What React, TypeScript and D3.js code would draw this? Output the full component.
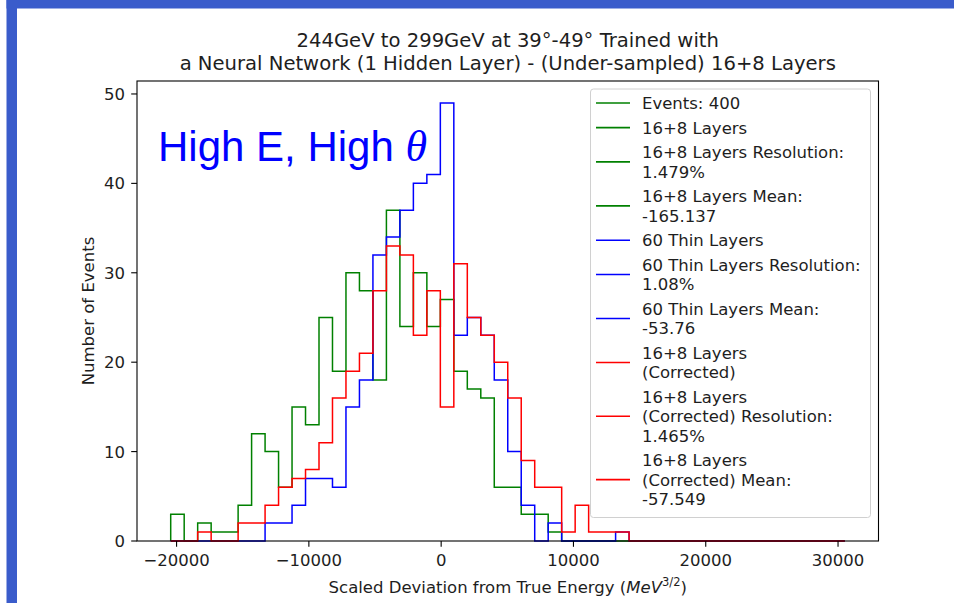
import React from "react";
import * as d3 from "d3";

// Histogram binning shared by all three series
const BIN_LO = -20444;
const BIN_HI = 30511;
const N_BINS = 50;

// Counts per bin (400 events each)
const layers16p8 = [
  3, 0, 2, 1, 1, 4, 12, 10, 6, 15, 13, 25, 19, 30, 28, 18, 37, 24, 30, 24,
  27, 19, 17, 16, 6, 6, 3, 3, 1, 0, 0, 0, 0, 0, 0, 0, 0, 0, 0, 0,
  0, 0, 0, 0, 0, 0, 0, 0, 0, 0,
];
const thinLayers60 = [
  0, 0, 0, 0, 0, 0, 0, 2, 2, 4, 7, 7, 6, 15, 18, 32, 34, 37, 40, 41,
  49, 23, 25, 23, 18, 10, 4, 0, 2, 0, 0, 0, 0, 1, 0, 0, 0, 0, 0, 0,
  0, 0, 0, 0, 0, 0, 0, 0, 0, 0,
];
const layers16p8Corrected = [
  0, 0, 1, 0, 0, 2, 2, 4, 6, 7, 8, 11, 16, 19, 21, 28, 33, 32, 23, 28,
  15, 31, 25, 23, 20, 16, 9, 6, 6, 1, 4, 1, 1, 1, 0, 0, 0, 0, 0, 0,
  0, 0, 0, 0, 0, 0, 0, 0, 0, 0,
];

const X_TICKS = [-20000, -10000, 0, 10000, 20000, 30000];
const Y_TICKS = [0, 10, 20, 30, 40, 50];

const TITLE_LINES = [
  "244GeV to 299GeV at 39°-49° Trained with",
  "a Neural Network (1 Hidden Layer) - (Under-sampled) 16+8 Layers",
];

const LEGEND_ITEMS: { color: string; lines: string[] }[] = [
  { color: "green", lines: ["Events: 400"] },
  { color: "green", lines: ["16+8 Layers"] },
  { color: "green", lines: ["16+8 Layers Resolution:", "1.479%"] },
  { color: "green", lines: ["16+8 Layers Mean:", "-165.137"] },
  { color: "blue", lines: ["60 Thin Layers"] },
  { color: "blue", lines: ["60 Thin Layers Resolution:", "1.08%"] },
  { color: "blue", lines: ["60 Thin Layers Mean:", "-53.76"] },
  { color: "red", lines: ["16+8 Layers", "(Corrected)"] },
  { color: "red", lines: ["16+8 Layers", "(Corrected) Resolution:", "1.465%"] },
  { color: "red", lines: ["16+8 Layers", "(Corrected) Mean:", "-57.549"] },
];

const SERIES = [
  { counts: layers16p8, color: "green" },
  { counts: thinLayers60, color: "blue" },
  { counts: layers16p8Corrected, color: "red" },
];

const W = 954;
const H = 603;
const FONT = "DejaVu Sans, Verdana, sans-serif";
const TEXT = "#1e1e1e";

export default function App() {
  const left = 137;
  const right = 878.5;
  const top = 81;
  const bottom = 541;

  const span = BIN_HI - BIN_LO;
  const margin = span * 0.05;
  const x = d3
    .scaleLinear()
    .domain([BIN_LO - margin, BIN_HI + margin])
    .range([left, right]);
  const yMax = d3.max(SERIES.flatMap((s) => s.counts)) as number;
  const y = d3
    .scaleLinear()
    .domain([0, yMax * 1.05])
    .range([bottom, top]);

  const edges = d3.range(N_BINS + 1).map((i) => BIN_LO + (span * i) / N_BINS);

  const stepLine = d3
    .line<[number, number]>()
    .x((d) => x(d[0]))
    .y((d) => y(d[1]));

  const stepPoints = (counts: number[]): [number, number][] => {
    const pts: [number, number][] = [[edges[0], 0]];
    counts.forEach((c, i) => {
      pts.push([edges[i], c]);
      pts.push([edges[i + 1], c]);
    });
    pts.push([edges[N_BINS], 0]);
    return pts;
  };

  // legend layout
  const lgX0 = 590.5;
  const lgX1 = 870.5;
  const lgY0 = 89;
  const lgY1 = 517.5;
  const lineH = 19.4;
  const gap = 5.2;
  const centers: number[] = [];
  let cy = 103;
  LEGEND_ITEMS.forEach((it, i) => {
    if (i > 0) {
      const prev = LEGEND_ITEMS[i - 1].lines.length;
      cy += ((prev + it.lines.length) / 2) * lineH + gap;
    }
    centers.push(cy);
  });

  const fmt = (v: number) => (v < 0 ? "\u2212" + Math.abs(v) : String(v));

  return (
    <svg
      width={W}
      height={H}
      style={{ position: "absolute", left: 0, top: 0, background: "#fff" }}
      fontFamily={FONT}
    >
      <rect x={0} y={0} width={W} height={H} fill="#fff" />
      {/* slide frame */}
      <rect x={6.5} y={0} width={W - 6.5} height={8.5} fill="#3a5ccb" />
      <rect x={6.5} y={0} width={10.5} height={H} fill="#3a5ccb" />

      {/* title */}
      {TITLE_LINES.map((t, i) => (
        <text
          key={i}
          x={(left + right) / 2}
          y={47 + i * 23.4}
          textAnchor="middle"
          fontSize={19.6}
          fill={TEXT}
        >
          {t}
        </text>
      ))}

      {/* histograms */}
      {SERIES.map((s, i) => (
        <path
          key={i}
          d={stepLine(stepPoints(s.counts)) as string}
          fill="none"
          stroke={s.color}
          strokeWidth={1.5}
          strokeLinejoin="miter"
        />
      ))}

      {/* axes frame */}
      <rect
        x={left}
        y={top}
        width={right - left}
        height={bottom - top}
        fill="none"
        stroke="#000"
        strokeWidth={1.1}
      />

      {/* x ticks */}
      {X_TICKS.map((v) => (
        <g key={v}>
          <line x1={x(v)} x2={x(v)} y1={bottom} y2={bottom + 5.8} stroke="#000" strokeWidth={1.1} />
          <text x={x(v)} y={566} textAnchor="middle" fontSize={16.5} fill={TEXT}>
            {fmt(v)}
          </text>
        </g>
      ))}
      {/* y ticks */}
      {Y_TICKS.map((v) => (
        <g key={v}>
          <line x1={left - 5.8} x2={left} y1={y(v)} y2={y(v)} stroke="#000" strokeWidth={1.1} />
          <text
            x={125}
            y={y(v)}
            dy="0.36em"
            textAnchor="end"
            fontSize={16.5}
            fill={TEXT}
          >
            {v}
          </text>
        </g>
      ))}

      {/* axis labels */}
      <text x={(left + right) / 2} y={593} textAnchor="middle" fontSize={16.5} fill={TEXT}>
        Scaled Deviation from True Energy (
        <tspan fontStyle="italic">MeV</tspan>
        <tspan fontSize={11.5} dy={-7}>3/2</tspan>
        <tspan dy={7}>)</tspan>
      </text>
      <text
        transform={`translate(94,${(top + bottom) / 2}) rotate(-90)`}
        textAnchor="middle"
        fontSize={16.5}
        fill={TEXT}
      >
        Number of Events
      </text>

      {/* annotation */}
      <text x={158} y={161} fontSize={42} fill="#0000ff" fontFamily="Liberation Sans, Arial, sans-serif">
        High E, High{" "}
        <tspan fontFamily="Liberation Serif, Times New Roman, serif" fontStyle="italic" fontSize={44}>
          θ
        </tspan>
      </text>

      {/* legend */}
      <rect
        x={lgX0}
        y={lgY0}
        width={lgX1 - lgX0}
        height={lgY1 - lgY0}
        rx={3}
        fill="#fff"
        fillOpacity={0.8}
        stroke="#d0d0d0"
        strokeWidth={1}
      />
      {LEGEND_ITEMS.map((it, i) => {
        const c = centers[i];
        const n = it.lines.length;
        return (
          <g key={i}>
            <line x1={596} x2={630} y1={c} y2={c} stroke={it.color} strokeWidth={1.6} />
            {it.lines.map((ln, j) => (
              <text
                key={j}
                x={642}
                y={c + (j - (n - 1) / 2) * lineH}
                dy="0.36em"
                fontSize={16.5}
                fill={TEXT}
              >
                {ln}
              </text>
            ))}
          </g>
        );
      })}
    </svg>
  );
}
